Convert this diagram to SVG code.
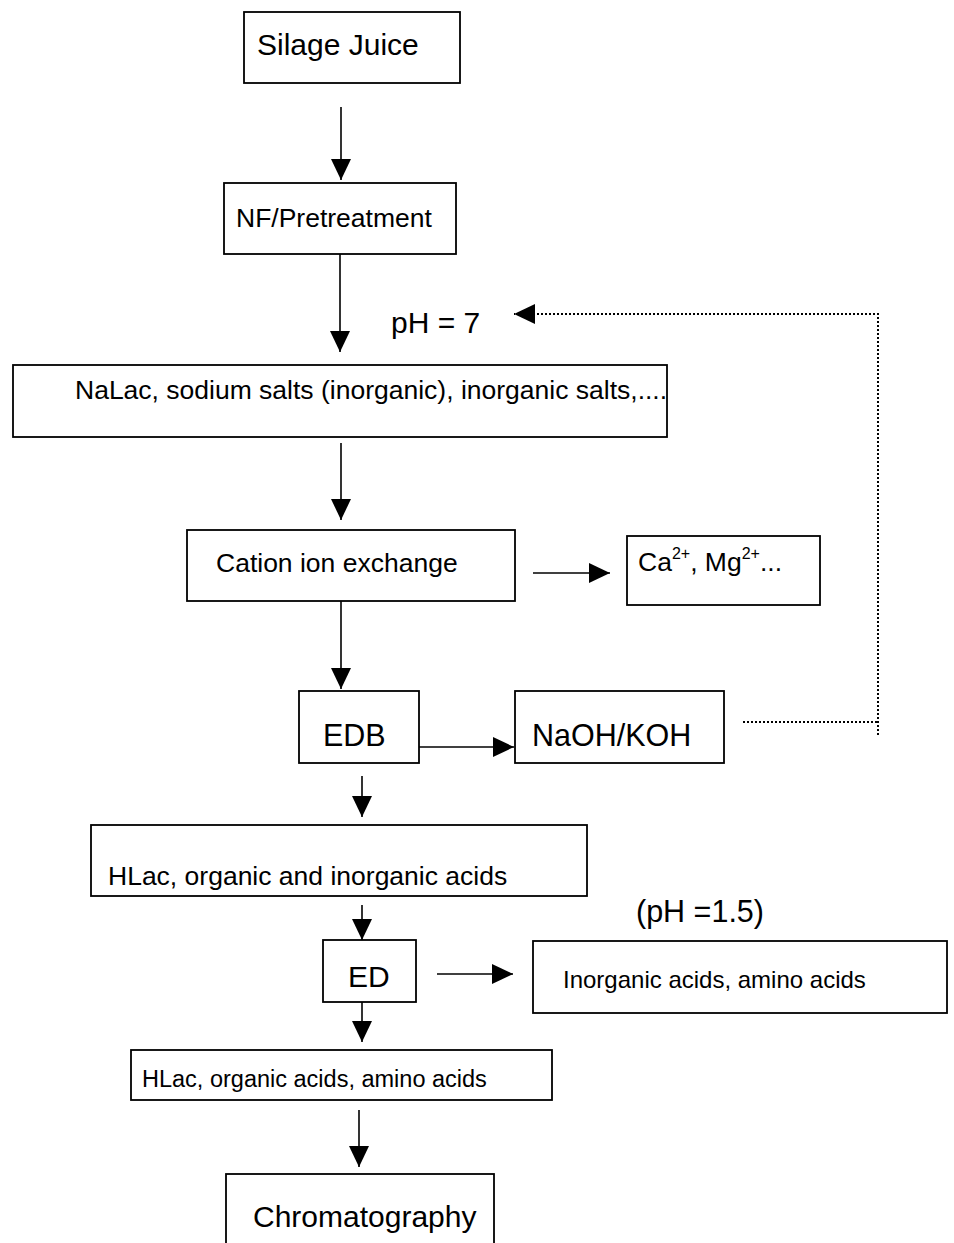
<svg xmlns="http://www.w3.org/2000/svg" width="954" height="1243" viewBox="0 0 954 1243">
<style>
.box{fill:#fff;stroke:#000;stroke-width:1.8}
.t{font-family:"Liberation Sans",Arial,sans-serif;fill:#000}
.c{stroke:#000;stroke-width:1.6;fill:none}
.d{stroke:#000;stroke-width:2;fill:none;stroke-dasharray:2 2}
</style>
<defs>
<marker id="ah" markerUnits="userSpaceOnUse" markerWidth="22" markerHeight="22" refX="21" refY="10" orient="auto" viewBox="0 0 22 22">
<path d="M0,0 L21,10 L0,20 z" fill="#000"/>
</marker>
</defs>
<rect width="954" height="1243" fill="#fff"/>
<g id="connectors">
<line class="c" x1="341" y1="107" x2="341" y2="180" marker-end="url(#ah)"/>
<line class="c" x1="340" y1="254" x2="340" y2="352" marker-end="url(#ah)"/>
<line class="c" x1="341" y1="443" x2="341" y2="520" marker-end="url(#ah)"/>
<line class="c" x1="341" y1="588" x2="341" y2="689" marker-end="url(#ah)"/>
<line class="c" x1="533" y1="573" x2="610" y2="573" marker-end="url(#ah)"/>
<line class="c" x1="419" y1="747" x2="514" y2="747" marker-end="url(#ah)"/>
<line class="c" x1="362" y1="776" x2="362" y2="817" marker-end="url(#ah)"/>
<line class="c" x1="362" y1="905" x2="362" y2="940" marker-end="url(#ah)"/>
<line class="c" x1="437" y1="974" x2="513" y2="974" marker-end="url(#ah)"/>
<line class="c" x1="362" y1="1002" x2="362" y2="1042" marker-end="url(#ah)"/>
<line class="c" x1="359" y1="1110" x2="359" y2="1167" marker-end="url(#ah)"/>
<path class="d" d="M743,722 H878 M878,735 V314 H514" marker-end="url(#ah)"/>
</g>
<g id="silage"><rect class="box" x="244" y="12" width="216" height="71"/><text class="t" x="257" y="55" font-size="30">Silage Juice</text></g>
<g id="nf"><rect class="box" x="224" y="183" width="232" height="71"/><text class="t" x="236" y="227" font-size="26.5">NF/Pretreatment</text></g>
<g id="ph7"><text class="t" x="391" y="333" font-size="30">pH = 7</text></g>
<g id="nalac"><rect class="box" x="13" y="365" width="654" height="72"/><text class="t" x="75" y="399" font-size="26.5">NaLac, sodium salts (inorganic), inorganic salts,....</text></g>
<g id="cation"><rect class="box" x="187" y="530" width="328" height="71"/><text class="t" x="216" y="572" font-size="26.5">Cation ion exchange</text></g>
<g id="ca"><rect class="box" x="627" y="536" width="193" height="69"/><text class="t" x="638" y="571" font-size="26.5">Ca<tspan font-size="16" dy="-12">2+</tspan><tspan dy="12">, Mg</tspan><tspan font-size="16" dy="-12">2+</tspan><tspan dy="12">...</tspan></text></g>
<g id="edb"><rect class="box" x="299" y="691" width="120" height="72"/><text class="t" x="323" y="746" font-size="30.5">EDB</text></g>
<g id="naoh"><rect class="box" x="515" y="691" width="209" height="72"/><text class="t" x="532" y="746" font-size="30.5">NaOH/KOH</text></g>
<g id="hlac"><rect class="box" x="91" y="825" width="496" height="71"/><text class="t" x="108" y="885" font-size="26.5">HLac, organic and inorganic acids</text></g>
<g id="ph15"><text class="t" x="636" y="922" font-size="30.5">(pH =1.5)</text></g>
<g id="ed"><rect class="box" x="323" y="940" width="93" height="62"/><text class="t" x="348" y="987" font-size="30">ED</text></g>
<g id="inorg"><rect class="box" x="533" y="941" width="414" height="72"/><text class="t" x="563" y="988" font-size="24">Inorganic acids, amino acids</text></g>
<g id="hlac2"><rect class="box" x="131" y="1050" width="421" height="50"/><text class="t" x="142" y="1087" font-size="23.5">HLac, organic acids, amino acids</text></g>
<g id="chrom"><rect class="box" x="226" y="1174" width="268" height="80"/><text class="t" x="253" y="1227" font-size="30">Chromatography</text></g>
</svg>
